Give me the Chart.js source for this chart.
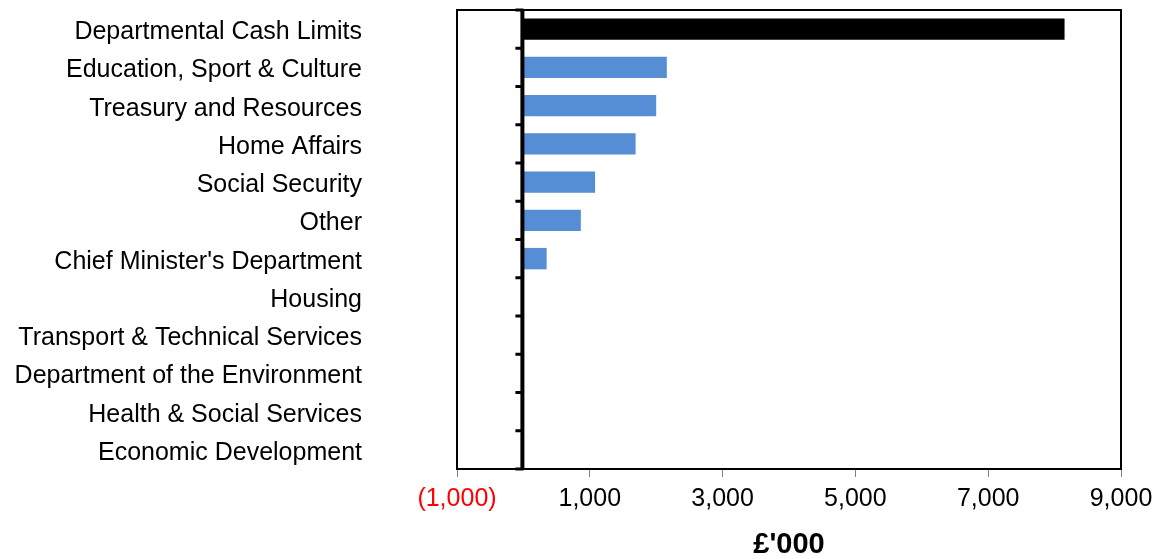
<!DOCTYPE html>
<html>
<head>
<meta charset="utf-8">
<script src="https://cdn.jsdelivr.net/npm/chart.js@4"></script>
<style>
  html, body { margin: 0; padding: 0; background: #fff; }
  #wrap { width: 1154px; height: 559px; position: relative; }
</style>
</head>
<body>
<div id="wrap"><canvas id="c" width="1154" height="559"></canvas></div>
<script>
const categories = [
  "Departmental Cash Limits",
  "Education, Sport & Culture",
  "Treasury and Resources",
  "Home Affairs",
  "Social Security",
  "Other",
  "Chief Minister's Department",
  "Housing",
  "Transport & Technical Services",
  "Department of the Environment",
  "Health & Social Services",
  "Economic Development"
];
const values = [8150, 2160, 2000, 1690, 1080, 865, 350, 0, 0, 0, 0, 0];
const xMin = -1000;
const xMax = 9000;
const xStep = 2000;
const axisTitle = "£'000";

const FONT = "'Liberation Sans', Arial, sans-serif";
const barColors = values.map((v, i) => i === 0 ? '#000000' : '#558ED5');

const framePlugin = {
  id: 'frameAndZero',
  afterDatasetsDraw(chart) {
    const {ctx, chartArea: a, scales} = chart;
    const x0 = scales.x.getPixelForValue(0);
    const ys = scales.y;
    ctx.save();
    ctx.strokeStyle = '#000';
    ctx.lineWidth = 4;
    ctx.beginPath();
    ctx.moveTo(x0 - 1, a.top);
    ctx.lineTo(x0 - 1, a.bottom);
    ctx.stroke();
    ctx.lineWidth = 3;
    const n = categories.length;
    for (let i = 0; i <= n; i++) {
      let y;
      if (i === 0) y = a.top;
      else if (i === n) y = a.bottom;
      else y = (ys.getPixelForValue(i - 1) + ys.getPixelForValue(i)) / 2;
      ctx.beginPath();
      ctx.moveTo(x0 - 8, y);
      ctx.lineTo(x0, y);
      ctx.stroke();
    }
    ctx.lineWidth = 2;
    ctx.strokeStyle = '#000';
    ctx.strokeRect(a.left, a.top, a.right - a.left, a.bottom - a.top);
    ctx.restore();
  }
};

new Chart(document.getElementById('c'), {
  type: 'bar',
  data: {
    labels: categories,
    datasets: [{
      data: values,
      backgroundColor: barColors,
      borderWidth: 0,
      categoryPercentage: 1.0,
      barPercentage: 0.56
    }]
  },
  options: {
    indexAxis: 'y',
    responsive: false,
    animation: false,
    devicePixelRatio: 1,
    layout: { padding: { top: 10, right: 33, left: 0, bottom: 0 } },
    plugins: {
      legend: { display: false },
      tooltip: { enabled: false }
    },
    scales: {
      x: {
        type: 'linear',
        min: xMin,
        max: xMax,
        afterFit(scale) { scale.height = 90; scale.paddingLeft = 0; scale.paddingRight = 0; },
        ticks: {
          stepSize: xStep,
          padding: 7,
          color: (ctx) => ctx.tick && ctx.tick.value < 0 ? '#FF0000' : '#000',
          font: { family: FONT, size: 25 },
          maxRotation: 0,
          callback: (v) => {
            const s = Math.abs(v).toLocaleString('en-US');
            return v < 0 ? '(' + s + ')' : s;
          }
        },
        grid: {
          drawOnChartArea: false,
          drawTicks: true,
          tickLength: 8,
          tickWidth: 1,
          tickColor: '#808080'
        },
        border: { display: false },
        title: {
          display: true,
          text: axisTitle,
          color: '#000',
          font: { family: FONT, size: 29, weight: 'bold', lineHeight: 1.0 },
          padding: 0
        }
      },
      y: {
        type: 'category',
        afterFit(scale) { scale.width = 457; scale.paddingTop = 0; scale.paddingBottom = 0; },
        ticks: {
          padding: 95,
          labelOffset: 3,
          color: '#000',
          font: { family: FONT, size: 25 },
          autoSkip: false
        },
        grid: { display: false, drawTicks: false },
        border: { display: false }
      }
    }
  },
  plugins: [framePlugin]
});
</script>
</body>
</html>
